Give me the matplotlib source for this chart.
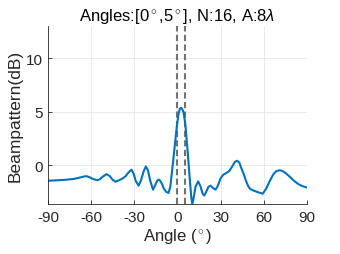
import matplotlib
matplotlib.use('Agg')
import matplotlib.pyplot as plt

# beampattern (angle in degrees, level in dB)
angles = [-90, -84, -78, -72, -68, -65.5, -63.5, -61.5, -59, -56, -54, -52, -49.3,
          -47, -45, -43, -40.5, -38, -36, -34, -32, -30.5, -29, -27, -25.5, -23.5,
          -22, -20.5, -19, -17, -15.5, -14, -12.6, -11, -9.5, -8, -6.2, -5, -3.5,
          -2, -0.5, 0.8, 1.7, 2.6, 3.5, 4.3, 5.5, 7, 8.5, 9.6, 10.3, 11, 12.5, 14.4,
          16, 17.5, 18.6, 20, 21.5, 23, 24.8, 26.5, 28, 30, 31.8, 34, 36, 38, 40,
          41.6, 43, 44.5, 46, 47.5, 49, 50.5, 53, 56, 59.2, 61.5, 64, 66.5, 68.5,
          70.9, 73, 75.5, 78, 80.5, 83.5, 86.5, 90]
levels = [-1.43, -1.39, -1.34, -1.26, -1.14, -1.05, -1.00, -1.08, -1.25, -1.38,
          -1.30, -1.05, -0.81, -1.00, -1.35, -1.52, -1.38, -1.20, -1.00, -0.65,
          -0.40, -0.75, -1.45, -1.89, -1.45, -0.55, -0.10, -0.45, -1.40, -2.26,
          -1.85, -1.40, -1.33, -1.65, -2.15, -2.45, -2.57, -2.00, -0.20, 1.70,
          3.60, 4.85, 5.30, 5.37, 5.20, 4.90, 3.80, 1.40, -1.20, -3.00, -3.55,
          -3.20, -2.00, -1.49, -1.95, -2.65, -2.81, -2.45, -2.00, -1.89, -2.12,
          -2.26, -1.90, -1.20, -0.87, -0.70, -0.52, -0.10, 0.35, 0.43, 0.25,
          -0.30, -0.80, -1.40, -1.90, -2.20, -2.35, -2.50, -2.64, -2.20, -1.48,
          -0.85, -0.55, -0.45, -0.52, -0.75, -1.05, -1.38, -1.70, -1.92, -2.06]
target_angles = [0, 5]
xticks = [-90, -60, -30, 0, 30, 60, 90]
yticks = [0, 5, 10]

plt.rcParams['font.family'] = ['Liberation Sans', 'DejaVu Sans']
plt.rcParams['mathtext.fontset'] = 'custom'
plt.rcParams['mathtext.rm'] = 'Liberation Sans'
plt.rcParams['mathtext.it'] = 'Liberation Sans:italic'

fig = plt.figure(figsize=(3.4, 2.55), dpi=100)
ax = fig.add_axes([0.141, 0.196, 0.762, 0.698])

for a in target_angles:
    ax.axvline(a, color=(0.45, 0.45, 0.45), linestyle='--', linewidth=1.5, dashes=(3, 1.6))
ax.plot(angles, levels, color='#0072BD', linewidth=1.5)

ax.set_xlim(-90, 90)
ax.set_ylim(-3.6, 13)
ax.set_xticks(xticks)
ax.set_xticklabels([str(t) for t in xticks])
ax.set_yticks(yticks)
ax.grid(True, color=(0.9, 0.9, 0.9), linewidth=0.6)
ax.set_axisbelow(True)
for s in ['top', 'right']:
    ax.spines[s].set_visible(False)
for s in ['left', 'bottom']:
    ax.spines[s].set_color((0.15, 0.15, 0.15))
    ax.spines[s].set_linewidth(0.6)
ax.tick_params(direction='in', length=3, width=0.6, colors=(0.15, 0.15, 0.15),
               labelsize=11, pad=4)

ax.set_title(r'Angles:[0$^\circ$,5$^\circ$], N:16, A:8$\it{\lambda}$', fontsize=12, pad=4)
ax.set_xlabel(r'Angle ($^\circ$)', fontsize=12, color=(0.15, 0.15, 0.15), labelpad=2)
ax.set_ylabel('Beampattern(dB)', fontsize=12.5, color=(0.15, 0.15, 0.15), labelpad=2)

fig.savefig('out.png', dpi=100)
